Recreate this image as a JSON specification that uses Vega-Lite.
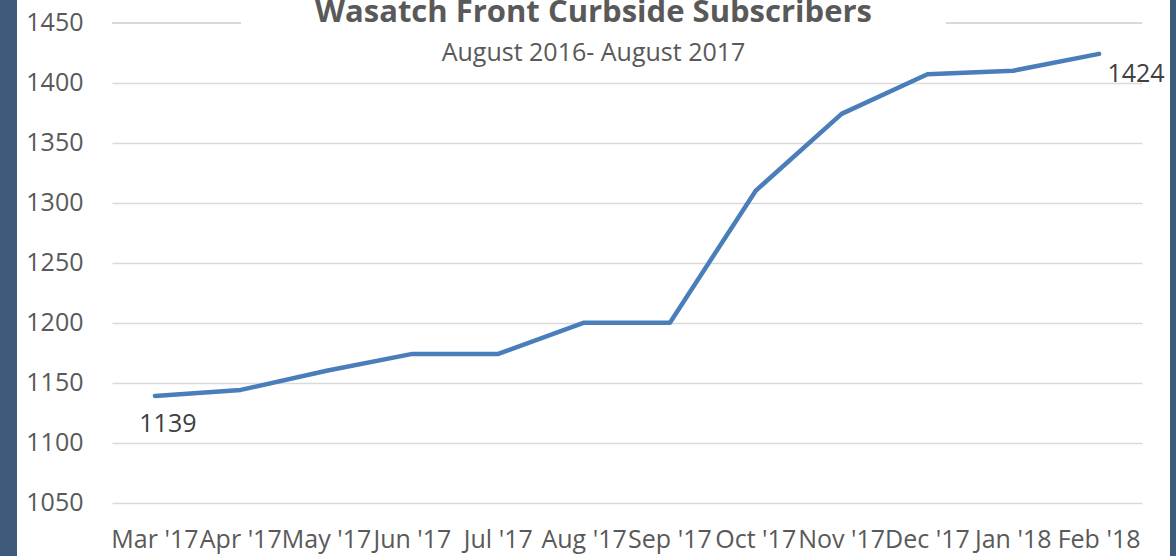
{
  "$schema": "https://vega.github.io/schema/vega-lite/v6.json",
  "autosize": {"type": "none"},
  "padding": {"left": 17, "top": 0, "right": 6, "bottom": 0},
  "width": 1153,
  "height": 556,
  "background": "#3f5b7c",
  "view": {"fill": "white", "stroke": null},
  "title": {
    "text": "Wasatch Front Curbside Subscribers",
    "subtitle": "August 2016- August 2017",
    "anchor": "middle",
    "frame": "group",
    "orient": "top",
    "offset": -67,
    "font": "Open Sans",
    "fontSize": 31,
    "fontWeight": "bold",
    "color": "#595959",
    "subtitleFont": "Open Sans",
    "subtitleFontSize": 25,
    "subtitleColor": "#595959",
    "subtitlePadding": 12
  },
  "data": {
    "values": [
      {"month": "Mar '17", "subscribers": 1139},
      {"month": "Apr '17", "subscribers": 1144},
      {"month": "May '17", "subscribers": 1160},
      {"month": "Jun '17", "subscribers": 1174},
      {"month": "Jul '17", "subscribers": 1174},
      {"month": "Aug '17", "subscribers": 1200},
      {"month": "Sep '17", "subscribers": 1200},
      {"month": "Oct '17", "subscribers": 1310},
      {"month": "Nov '17", "subscribers": 1374},
      {"month": "Dec '17", "subscribers": 1407},
      {"month": "Jan '18", "subscribers": 1410},
      {"month": "Feb '18", "subscribers": 1424}
    ]
  },
  "encoding": {
    "x": {
      "field": "month",
      "type": "nominal",
      "sort": null,
      "scale": {
        "type": "band",
        "domain": ["Mar '17", "Apr '17", "May '17", "Jun '17", "Jul '17", "Aug '17", "Sep '17", "Oct '17", "Nov '17", "Dec '17", "Jan '18", "Feb '18"],
        "range": [95, 1125],
        "paddingInner": 0,
        "paddingOuter": 0
      },
      "axis": {
        "title": null,
        "orient": "bottom",
        "offset": -53.3,
        "domain": false,
        "ticks": false,
        "grid": false,
        "labelAngle": 0,
        "labelPadding": 25,
        "labelOverlap": false,
        "labelFlush": false,
        "labelLimit": 0,
        "labelFont": "Open Sans",
        "labelFontSize": 25,
        "labelColor": "#595959"
      }
    },
    "y": {
      "field": "subscribers",
      "type": "quantitative",
      "scale": {"domain": [1050, 1450], "range": [502.7, 22.7], "nice": false, "zero": false},
      "axis": {
        "title": null,
        "orient": "left",
        "offset": -95,
        "values": [1050, 1100, 1150, 1200, 1250, 1300, 1350, 1400, 1450],
        "format": "d",
        "domain": false,
        "ticks": false,
        "grid": true,
        "gridColor": "#d9d9d9",
        "gridWidth": 1.5,
        "gridOpacity": {"condition": {"test": "datum.value == 1450", "value": 0}, "value": 1},
        "labelPadding": 29,
        "labelFont": "Open Sans",
        "labelFontSize": 25,
        "labelColor": "#595959",
        "labelBaseline": "middle"
      }
    }
  },
  "layer": [
    {
      "mark": {"type": "rule", "color": "#d9d9d9", "strokeWidth": 1.5},
      "encoding": {
        "x": {"datum": "Mar '17", "bandPosition": 0},
        "x2": {"datum": "Apr '17", "bandPosition": 0.5},
        "y": {"datum": 1450}
      }
    },
    {
      "mark": {"type": "rule", "color": "#d9d9d9", "strokeWidth": 1.5},
      "encoding": {
        "x": {"datum": "Dec '17", "bandPosition": 0.717},
        "x2": {"datum": "Feb '18", "bandPosition": 1},
        "y": {"datum": 1450}
      }
    },
    {
      "mark": {"type": "line", "color": "#4a7ebb", "strokeWidth": 4.5, "strokeCap": "round", "strokeJoin": "round"}
    },
    {
      "transform": [{"filter": "datum.month == \"Mar '17\""}],
      "mark": {"type": "text", "font": "Open Sans", "fontSize": 25, "color": "#404040", "dx": 13, "dy": 28},
      "encoding": {"text": {"field": "subscribers", "type": "quantitative", "format": "d"}}
    },
    {
      "transform": [{"filter": "datum.month == \"Feb '18\""}],
      "mark": {"type": "text", "font": "Open Sans", "fontSize": 25, "color": "#404040", "dx": 37, "dy": 20},
      "encoding": {"text": {"field": "subscribers", "type": "quantitative", "format": "d"}}
    }
  ]
}
